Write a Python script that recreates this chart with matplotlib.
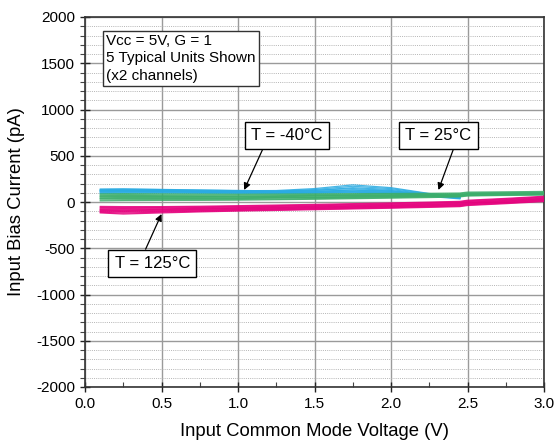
import matplotlib
matplotlib.use("Agg")
import matplotlib.pyplot as plt
from matplotlib.ticker import MultipleLocator

plt.rcParams['font.family'] = ['Liberation Sans', 'DejaVu Sans']

# ---- data ----
x_cold = [0.1, 0.25, 0.5, 0.75, 1.0, 1.25, 1.5, 1.75, 2.0, 2.25, 2.45]
cold_curves = [
    [135, 138, 134, 128, 122, 124, 145, 185, 155, 92, 62],
    [125, 128, 124, 120, 115, 116, 135, 170, 145, 88, 58],
    [118, 120, 116, 113, 110, 110, 124, 155, 135, 82, 52],
    [140, 142, 136, 130, 125, 120, 128, 145, 125, 78, 48],
    [100, 104, 104, 102, 100, 102, 108, 118, 108, 72, 42],
    [128, 130, 126, 120, 114, 112, 118, 128, 114, 74, 50],
    [108, 112, 110, 106, 102, 98, 100, 106, 96, 66, 38],
    [92, 96, 96, 94, 92, 90, 95, 100, 90, 60, 34],
    [122, 125, 118, 114, 108, 106, 112, 132, 120, 80, 54],
    [112, 116, 114, 110, 104, 100, 104, 112, 102, 70, 44],
]

x_full = [0.1, 0.25, 0.5, 0.75, 1.0, 1.25, 1.5, 1.75, 2.0, 2.25, 2.45, 2.5, 2.75, 3.0]
room_curves = [
    [88, 90, 88, 86, 84, 86, 88, 90, 92, 94, 97, 107, 110, 114],
    [78, 80, 78, 77, 76, 78, 80, 82, 84, 87, 90, 100, 102, 106],
    [68, 70, 68, 67, 66, 68, 72, 74, 77, 80, 82, 92, 96, 100],
    [56, 59, 58, 57, 56, 59, 63, 66, 69, 71, 75, 85, 89, 93],
    [45, 48, 48, 47, 46, 50, 54, 58, 62, 65, 70, 80, 84, 88],
    [34, 37, 37, 37, 38, 42, 46, 50, 55, 60, 65, 75, 80, 84],
    [22, 25, 26, 26, 28, 32, 37, 42, 48, 54, 60, 70, 75, 80],
    [12, 15, 17, 18, 20, 25, 30, 36, 42, 48, 55, 65, 71, 75],
    [62, 64, 63, 61, 61, 63, 67, 71, 73, 76, 79, 89, 93, 97],
    [40, 43, 42, 42, 42, 46, 50, 54, 58, 62, 66, 78, 82, 86],
]

hot_curves = [
    [-48, -50, -50, -46, -40, -33, -26, -18, -10, -1, 7, 19, 39, 62],
    [-58, -60, -58, -53, -47, -40, -33, -25, -17, -8, 0, 12, 32, 55],
    [-67, -69, -66, -60, -54, -47, -40, -32, -24, -15, -7, 5, 25, 48],
    [-76, -78, -74, -68, -61, -54, -47, -39, -31, -22, -14, -2, 18, 41],
    [-83, -86, -81, -74, -67, -60, -53, -45, -37, -28, -20, -8, 12, 35],
    [-90, -94, -88, -80, -73, -66, -59, -51, -43, -34, -26, -14, 6, 29],
    [-97, -102, -95, -87, -80, -72, -65, -57, -49, -40, -32, -20, 0, 23],
    [-104, -110, -102, -94, -86, -79, -71, -63, -55, -46, -38, -26, -6, 17],
    [-111, -120, -110, -100, -92, -85, -77, -69, -61, -52, -44, -32, -12, 11],
    [-118, -130, -118, -107, -98, -91, -83, -75, -67, -58, -50, -38, -18, 5],
]

x_ticks = [0.0, 0.5, 1.0, 1.5, 2.0, 2.5, 3.0]
y_ticks = [-2000, -1500, -1000, -500, 0, 500, 1000, 1500, 2000]

# ---- figure ----
fig = plt.figure(figsize=(5.57, 4.43), dpi=100)
ax = fig.add_axes([85/557, 1-387/443, (544-85)/557, (387-17)/443])

c_cold = '#2AABE2'
c_room = '#3DAE6B'
c_hot = '#E5007D'
for ys in cold_curves:
    ax.plot(x_cold, ys, color=c_cold, lw=0.9, alpha=0.85, zorder=3)
for ys in room_curves:
    ax.plot(x_full, ys, color=c_room, lw=0.9, alpha=0.85, zorder=4)
for ys in hot_curves:
    ax.plot(x_full, ys, color=c_hot, lw=0.9, alpha=0.85, zorder=5)

ax.set_xlim(0, 3)
ax.set_ylim(-2000, 2000)
ax.set_xticks(x_ticks)
ax.set_xticklabels([f"{v:.1f}" for v in x_ticks])
ax.set_yticks(y_ticks)
ax.set_yticklabels([str(v) for v in y_ticks])
ax.xaxis.set_minor_locator(MultipleLocator(0.25))
ax.yaxis.set_minor_locator(MultipleLocator(100))

ax.grid(which='major', color='#9a9a9a', lw=1.0, ls='-', zorder=0)
ax.grid(which='minor', axis='y', color='#b5b5b5', lw=0.7, ls=(0, (1, 1.2)), zorder=0)
ax.set_axisbelow(True)

ax.tick_params(axis='both', which='major', direction='inout', length=7, width=1,
               labelsize=11, colors='#222222', labelcolor='black')
ax.tick_params(axis='y', which='minor', direction='out', length=3.5, width=0.8, colors='#444444')
ax.tick_params(axis='x', which='minor', direction='in', length=3.5, width=0.8, colors='#444444')
for s in ax.spines.values():
    s.set_color('#333333')
    s.set_linewidth(1.2)

ax.set_xlabel('Input Common Mode Voltage (V)', fontsize=13.3, labelpad=9)
ax.set_ylabel('Input Bias Current (pA)', fontsize=13.3, labelpad=8)

ax.text(0.14, 1815, 'Vcc = 5V, G = 1\n5 Typical Units Shown\n(x2 channels)',
        fontsize=11, va='top', ha='left', linespacing=1.3,
        bbox=dict(boxstyle='square,pad=0.22', fc='white', ec='#333333', lw=1), zorder=6)

bbox_kw = dict(boxstyle='square,pad=0.38', fc='white', ec='black', lw=1)
ax.annotate('T = -40°C', xy=(1.04, 130), xytext=(1.32, 718), fontsize=12,
            ha='center', va='center', bbox=bbox_kw, zorder=7,
            arrowprops=dict(arrowstyle='-|>', color='black', lw=0.9, mutation_scale=10,
                            shrinkA=0, shrinkB=0, relpos=(0.2, 0)))
ax.annotate('T = 25°C', xy=(2.31, 130), xytext=(2.31, 718), fontsize=12,
            ha='center', va='center', bbox=bbox_kw, zorder=7,
            arrowprops=dict(arrowstyle='-|>', color='black', lw=0.9, mutation_scale=10,
                            shrinkA=0, shrinkB=0, relpos=(0.76, 0)))
ax.annotate('T = 125°C', xy=(0.50, -130), xytext=(0.44, -665), fontsize=12,
            ha='center', va='center', bbox=bbox_kw, zorder=7,
            arrowprops=dict(arrowstyle='-|>', color='black', lw=0.9, mutation_scale=10,
                            shrinkA=0, shrinkB=0, relpos=(0.37, 1)))

fig.savefig('out.png', dpi=100)
